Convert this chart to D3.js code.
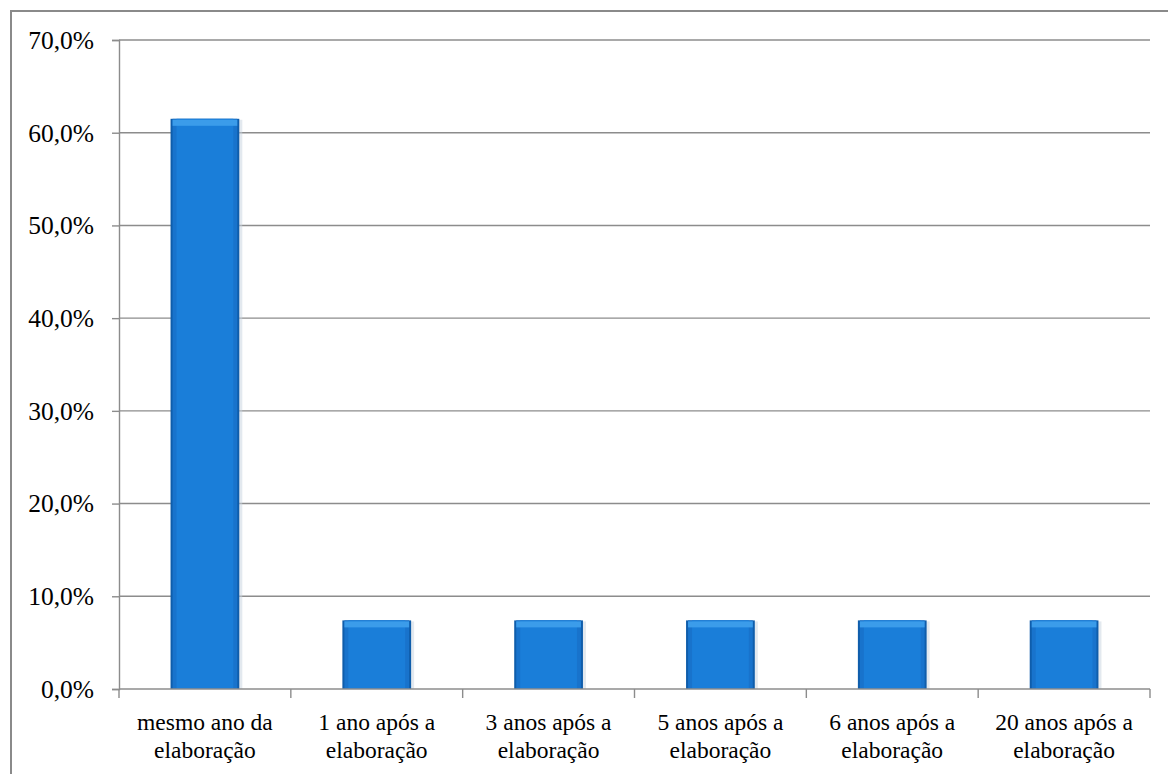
<!DOCTYPE html>
<html><head><meta charset="utf-8">
<script src="https://cdn.jsdelivr.net/npm/d3@7"></script>
<style>body{margin:0;background:#fff}</style>
</head><body>
<svg id="c" width="1168" height="774"></svg>
<script>
const categories = [
  ["mesmo ano da","elaboração"],
  ["1 ano após a","elaboração"],
  ["3 anos após a","elaboração"],
  ["5 anos após a","elaboração"],
  ["6 anos após a","elaboração"],
  ["20 anos após a","elaboração"]
];
const values = [61.5, 7.4, 7.4, 7.4, 7.4, 7.4];
const yTicks = [0,10,20,30,40,50,60,70];

const svg = d3.select("#c");
const x0=119, x1=1150, y0=689, y1=40;
const SERIF="Liberation Serif";

// outer frame: only left and top edges fall inside the window
svg.append("rect").attr("x",11).attr("y",10).attr("width",1160).attr("height",2).attr("fill","#8a8a8a");
svg.append("rect").attr("x",10).attr("y",10).attr("width",2).attr("height",770).attr("fill","#8a8a8a");

const x=d3.scaleBand().domain(d3.range(categories.length)).range([x0,x1]).paddingInner(0.6).paddingOuter(0.3);
const y=d3.scaleLinear().domain([0,70]).range([y0,y1]);
const fmt=d=>d.toFixed(1).replace(".",",")+"%";

// gridlines
svg.append("g").selectAll("line").data(yTicks.filter(d=>d>0)).join("line")
  .attr("x1",x0).attr("x2",x1).attr("y1",d=>y(d)).attr("y2",d=>y(d))
  .attr("stroke","#8c8c8c").attr("stroke-width",1.4);

// y axis
const ya=svg.append("g").attr("transform",`translate(${x0},0)`)
  .call(d3.axisLeft(y).tickValues(yTicks).tickFormat(fmt).tickSize(7).tickPadding(18));
ya.select(".domain").attr("stroke","#8c8c8c").attr("stroke-width",1.4);
ya.selectAll(".tick line").attr("stroke","#8c8c8c").attr("stroke-width",1.4);
ya.selectAll("text").attr("font-family",SERIF).attr("font-size",25.5).attr("fill","#000").attr("dy","0.33em");

// bars (solid body, darker side edges, light top bevel)
const bars=svg.append("g").selectAll("g").data(values).join("g");
bars.append("rect").attr("x",(d,i)=>x(i)+1).attr("y",d=>y(d)+1).attr("width",x.bandwidth()+2).attr("height",d=>y0-y(d)-1)
  .attr("fill","#c8d4e0").attr("opacity",0.5);
bars.append("rect").attr("x",(d,i)=>x(i)).attr("y",d=>y(d)).attr("width",x.bandwidth()).attr("height",d=>y0-y(d))
  .attr("fill","#0f5dab");
bars.append("rect").attr("x",(d,i)=>x(i)+2).attr("y",d=>y(d)).attr("width",x.bandwidth()-4).attr("height",d=>y0-y(d))
  .attr("fill","#1873cc");
bars.append("rect").attr("x",(d,i)=>x(i)+6).attr("y",d=>y(d)).attr("width",x.bandwidth()-12).attr("height",d=>y0-y(d))
  .attr("fill","#1a7ed9");
bars.append("rect").attr("x",(d,i)=>x(i)+2).attr("y",d=>y(d)+1).attr("width",x.bandwidth()-4).attr("height",6)
  .attr("fill","#3b9cea");

// x axis
const xa=svg.append("g").attr("transform",`translate(0,${y0})`);
xa.append("line").attr("x1",x0).attr("x2",x1).attr("stroke","#8c8c8c").attr("stroke-width",1.4);
const step=(x1-x0)/categories.length;
xa.selectAll(".tk").data(d3.range(categories.length+1)).join("line").attr("class","tk")
  .attr("x1",i=>x0+i*step).attr("x2",i=>x0+i*step).attr("y1",0).attr("y2",9)
  .attr("stroke","#8c8c8c").attr("stroke-width",1.4);
categories.forEach((d,i)=>{
  d.forEach((s,k)=>{
    svg.append("text").attr("x",x(i)+x.bandwidth()/2).attr("y",y0+41+k*27.5).attr("text-anchor","middle")
      .attr("font-family",SERIF).attr("font-size",23.5).attr("fill","#000").text(s);
  });
});
</script>
</body></html>
